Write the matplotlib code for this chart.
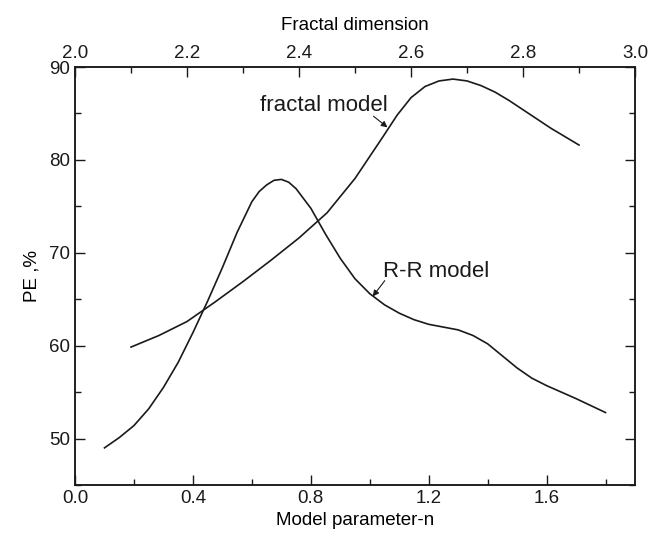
# PE vs model parameter (R-R model) and fractal dimension (fractal model)

import matplotlib.pyplot as plt
from matplotlib.ticker import MultipleLocator

plt.rcParams['font.family'] = ['Liberation Sans', 'DejaVu Sans']

# R-R model, plotted against Model parameter-n (bottom axis)
rr_n = [0.10, 0.15, 0.20, 0.25, 0.30, 0.35, 0.40, 0.45, 0.50, 0.55, 0.60,
        0.625, 0.65, 0.675, 0.70, 0.725, 0.75, 0.80, 0.85, 0.90, 0.95, 1.00,
        1.05, 1.10, 1.15, 1.20, 1.25, 1.30, 1.35, 1.40, 1.45, 1.50, 1.55,
        1.60, 1.65, 1.70, 1.75, 1.80]
rr_pe = [49.0, 50.1, 51.4, 53.2, 55.5, 58.2, 61.4, 64.8, 68.4, 72.2, 75.5,
         76.6, 77.3, 77.8, 77.9, 77.6, 76.9, 74.8, 72.0, 69.4, 67.2, 65.6,
         64.4, 63.5, 62.8, 62.3, 62.0, 61.7, 61.1, 60.2, 58.9, 57.6, 56.5,
         55.7, 55.0, 54.3, 53.55, 52.8]

# fractal model, plotted against Fractal dimension (top axis)
fd = [2.10, 2.15, 2.20, 2.25, 2.30, 2.35, 2.40, 2.45, 2.50, 2.55, 2.575,
      2.60, 2.625, 2.65, 2.675, 2.70, 2.725, 2.75, 2.775, 2.80, 2.85, 2.90]
fd_pe = [59.85, 61.1, 62.6, 64.7, 66.9, 69.2, 71.6, 74.3, 78.0, 82.5, 84.8,
         86.7, 87.9, 88.5, 88.7, 88.5, 88.0, 87.3, 86.4, 85.4, 83.4, 81.6]

fs = 13.5
fs_note = 16

fig = plt.figure(figsize=(6.65, 5.43), dpi=100)
ax = fig.add_axes([0.1128, 0.1068, 0.8421, 0.7698])
ax2 = ax.twiny()

ax.plot(rr_n, rr_pe, color='#1a1a1a', lw=1.2)
ax2.plot(fd, fd_pe, color='#1a1a1a', lw=1.2)

ax.set_xlim(0, 1.9)
ax.set_ylim(45, 90)
ax2.set_xlim(2.0, 3.0)

ax.xaxis.set_major_locator(MultipleLocator(0.4))
ax.xaxis.set_minor_locator(MultipleLocator(0.2))
ax.yaxis.set_major_locator(MultipleLocator(10))
ax.yaxis.set_minor_locator(MultipleLocator(5))
ax2.xaxis.set_major_locator(MultipleLocator(0.2))
ax2.xaxis.set_minor_locator(MultipleLocator(0.1))

ax.xaxis.set_major_formatter(lambda v, p: f'{v:.1f}')
ax2.xaxis.set_major_formatter(lambda v, p: f'{v:.1f}')

ax.tick_params(which='both', direction='in', right=True, labelsize=fs,
               width=1.0, colors='#1a1a1a')
ax.tick_params(which='major', length=7)
ax.tick_params(which='minor', length=4)
ax2.tick_params(which='both', direction='in', labelsize=fs, width=1.0,
                colors='#1a1a1a')
ax2.tick_params(which='major', length=7)
ax2.tick_params(which='minor', length=4)

for a in (ax, ax2):
    for s in a.spines.values():
        s.set_linewidth(1.1)
        s.set_color('#1a1a1a')

ax.set_xlabel('Model parameter-n', fontsize=fs, labelpad=4)
ax.set_ylabel('PE ,%', fontsize=fs, labelpad=6)
ax2.set_xlabel('Fractal dimension', fontsize=fs, labelpad=11)

arrow = dict(arrowstyle='-|>', color='#1a1a1a', lw=0.8,
             mutation_scale=9, shrinkA=0, shrinkB=0)
ax2.annotate('fractal model', xy=(2.558, 83.5), xytext=(2.33, 85.9),
             fontsize=fs_note, va='center', ha='left', color='#1a1a1a')
ax2.annotate('', xy=(2.558, 83.5), xytext=(2.533, 84.7), arrowprops=arrow)
ax.annotate('R-R model', xy=(1.010, 65.3), xytext=(1.044, 68.0),
            fontsize=fs_note, va='center', ha='left', color='#1a1a1a')
ax.annotate('', xy=(1.010, 65.3), xytext=(1.051, 67.0), arrowprops=arrow)

fig.savefig('out.png', dpi=100)
